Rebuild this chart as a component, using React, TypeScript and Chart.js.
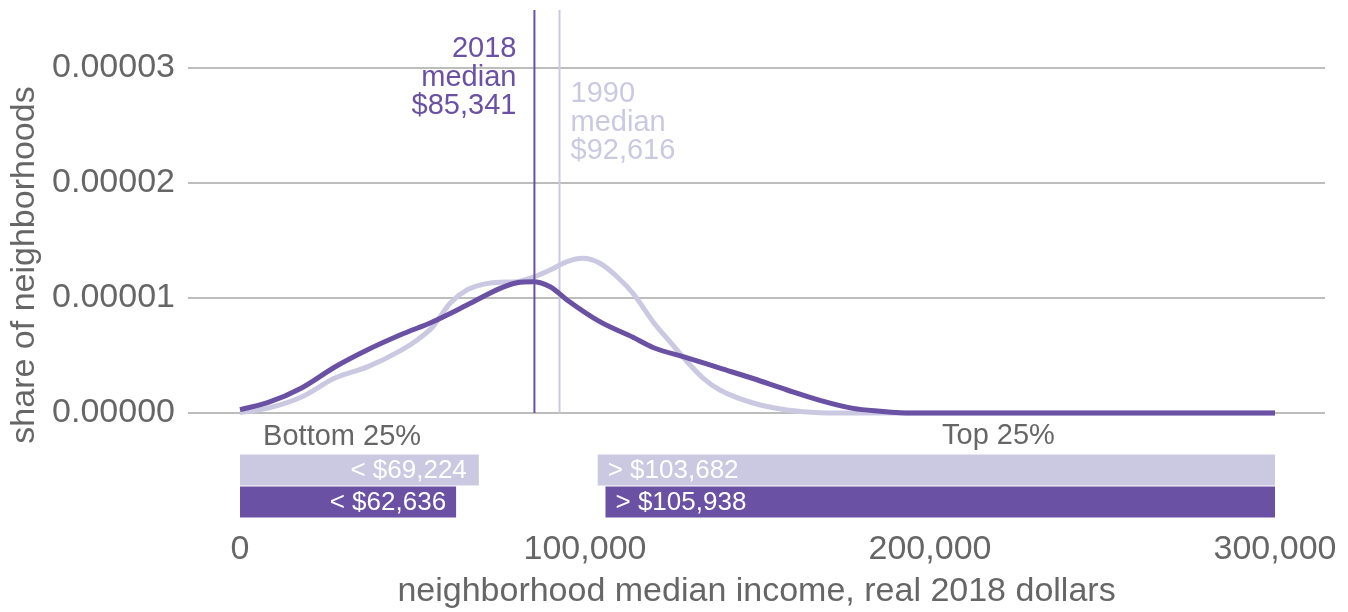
import React, { useEffect, useRef } from "react";
import { Chart, registerables } from "chart.js";

Chart.register(...registerables);

// ---- data ----
const incomeDark = [0, 8000, 18000, 27500, 37000, 46400, 55900, 65800, 75400, 80300, 84900, 89900, 94800, 104300, 113900, 119700, 129600, 139100, 148700, 158600, 168100, 177700, 185500, 191300, 200000, 250000, 300000];
const densityDark = [0.03e-5, 0.09e-5, 0.22e-5, 0.40e-5, 0.55e-5, 0.678e-5, 0.794e-5, 0.939e-5, 1.084e-5, 1.133e-5, 1.142e-5, 1.098e-5, 0.983e-5, 0.794e-5, 0.658e-5, 0.57e-5, 0.48e-5, 0.39e-5, 0.30e-5, 0.20e-5, 0.11e-5, 0.04e-5, 0.015e-5, 0.003e-5, 0, 0, 0];

const incomeLight = [0, 8100, 18000, 27500, 37100, 46400, 51600, 55900, 60900, 65800, 70400, 75400, 80300, 84900, 89900, 94800, 99400, 104300, 109300, 113900, 119700, 124600, 129600, 134200, 139100, 148700, 158600, 168100, 180000, 300000];
const densityLight = [0.005e-5, 0.043e-5, 0.142e-5, 0.304e-5, 0.403e-5, 0.54e-5, 0.64e-5, 0.75e-5, 0.954e-5, 1.07e-5, 1.119e-5, 1.137e-5, 1.142e-5, 1.18e-5, 1.243e-5, 1.316e-5, 1.345e-5, 1.302e-5, 1.185e-5, 1.041e-5, 0.794e-5, 0.62e-5, 0.446e-5, 0.304e-5, 0.2e-5, 0.087e-5, 0.026e-5, 0.003e-5, 0, 0];

const median2018 = 85341;
const median1990 = 92616;

const bottomQuartile1990 = 69224;
const bottomQuartile2018 = 62636;
const topQuartile1990 = 103682;
const topQuartile2018 = 105938;
const incomeMin = 0;
const incomeMax = 300000;

const xTickValues = [0, 100000, 200000, 300000];
const yTickValues = [0, 0.00001, 0.00002, 0.00003];

const label2018 = ["2018", "median", "$85,341"];
const label1990 = ["1990", "median", "$92,616"];
const bottomLabel = "Bottom 25%";
const topLabel = "Top 25%";
const barLabelBottom1990 = "< $69,224";
const barLabelBottom2018 = "< $62,636";
const barLabelTop1990 = "> $103,682";
const barLabelTop2018 = "> $105,938";

// ---- style / layout ----
const DARK = "#6a51a3";
const LIGHT = "#cbc9e2";
const GRAY = "#666666";
const FONT = "'Liberation Sans', Arial, sans-serif";

const X_MIN = -15072;
const X_MAX = 314493;
const Y_MIN = -0.9304e-5;
const Y_MAX = 3.5043e-5;
const BAR_Y_1990 = -0.4957e-5;
const BAR_Y_2018 = -0.774e-5;
const BAR_THICK = 31;

const pts = (xs: number[], ys: number[]) => xs.map((x, i) => ({ x, y: ys[i] }));

export default function App() {
  const ref = useRef<HTMLCanvasElement>(null);

  useEffect(() => {
    document.body.style.margin = "0";
    const textPlugin = {
      id: "annotations",
      afterDatasetsDraw(chart: any) {
        const { ctx, scales } = chart;
        const xs = scales.x;
        const ys = scales.y;
        ctx.save();
        // median labels
        ctx.font = `29px ${FONT}`;
        ctx.textBaseline = "alphabetic";
        ctx.fillStyle = DARK;
        ctx.textAlign = "right";
        const dx = xs.getPixelForValue(median2018) - 18;
        const dy = ys.getPixelForValue(3.0957e-5);
        label2018.forEach((t, i) => ctx.fillText(t, dx, dy + i * 28.7));
        ctx.fillStyle = LIGHT;
        ctx.textAlign = "left";
        const lx = xs.getPixelForValue(median1990) + 11;
        const ly = ys.getPixelForValue(2.7043e-5);
        label1990.forEach((t, i) => ctx.fillText(t, lx, ly + i * 28.7));

        // quartile headers
        ctx.fillStyle = GRAY;
        ctx.textBaseline = "middle";
        ctx.textAlign = "left";
        ctx.fillText(bottomLabel, xs.getPixelForValue(6700), ys.getPixelForValue(-0.209e-5));
        ctx.textAlign = "right";
        ctx.fillText(topLabel, xs.getPixelForValue(236200), ys.getPixelForValue(-0.2e-5));

        // bar labels
        ctx.font = `26px ${FONT}`;
        ctx.fillStyle = "#ffffff";
        ctx.textAlign = "right";
        ctx.fillText(barLabelBottom1990, xs.getPixelForValue(bottomQuartile1990) - 12, ys.getPixelForValue(BAR_Y_1990) + 1);
        ctx.fillText(barLabelBottom2018, xs.getPixelForValue(bottomQuartile2018) - 10, ys.getPixelForValue(BAR_Y_2018) + 1);
        ctx.textAlign = "left";
        ctx.fillText(barLabelTop1990, xs.getPixelForValue(topQuartile1990) + 10, ys.getPixelForValue(BAR_Y_1990) + 1);
        ctx.fillText(barLabelTop2018, xs.getPixelForValue(topQuartile2018) + 10, ys.getPixelForValue(BAR_Y_2018) + 1);
        ctx.restore();
      },
    };

    const chart = new Chart(ref.current!, {
      type: "line",
      data: {
        datasets: [
          {
            data: pts(incomeDark, densityDark),
            borderColor: DARK,
            borderWidth: 5,
            pointRadius: 0,
            cubicInterpolationMode: "monotone",
          },
          {
            data: [{ x: median2018, y: 0 }, { x: median2018, y: Y_MAX }],
            borderColor: DARK,
            borderWidth: 2,
            pointRadius: 0,
          },
          {
            data: [{ x: median1990, y: 0 }, { x: median1990, y: Y_MAX }],
            borderColor: LIGHT,
            borderWidth: 2,
            pointRadius: 0,
          },
          {
            data: pts(incomeLight, densityLight),
            borderColor: LIGHT,
            borderWidth: 5,
            pointRadius: 0,
            cubicInterpolationMode: "monotone",
          },
          {
            data: [{ x: incomeMin, y: BAR_Y_1990 }, { x: bottomQuartile1990, y: BAR_Y_1990 }],
            borderColor: LIGHT,
            borderWidth: BAR_THICK,
            borderCapStyle: "butt",
            pointRadius: 0,
          },
          {
            data: [{ x: topQuartile1990, y: BAR_Y_1990 }, { x: incomeMax, y: BAR_Y_1990 }],
            borderColor: LIGHT,
            borderWidth: BAR_THICK,
            borderCapStyle: "butt",
            pointRadius: 0,
          },
          {
            data: [{ x: incomeMin, y: BAR_Y_2018 }, { x: bottomQuartile2018, y: BAR_Y_2018 }],
            borderColor: DARK,
            borderWidth: BAR_THICK,
            borderCapStyle: "butt",
            pointRadius: 0,
          },
          {
            data: [{ x: topQuartile2018, y: BAR_Y_2018 }, { x: incomeMax, y: BAR_Y_2018 }],
            borderColor: DARK,
            borderWidth: BAR_THICK,
            borderCapStyle: "butt",
            pointRadius: 0,
          },
        ] as any,
      },
      options: {
        responsive: false,
        animation: false,
        events: [],
        layout: { padding: { top: 10, right: 23, bottom: 0, left: 0 } },
        plugins: { legend: { display: false }, tooltip: { enabled: false } },
        scales: {
          x: {
            type: "linear",
            min: X_MIN,
            max: X_MAX,
            afterBuildTicks: (axis: any) => {
              axis.ticks = xTickValues.map((v) => ({ value: v }));
            },
            afterFit: (axis: any) => {
              axis.height = 92;
              axis.paddingLeft = 0;
              axis.paddingRight = 0;
            },
            ticks: {
              color: GRAY,
              font: { family: FONT, size: 34 },
              padding: 1,
              maxRotation: 0,
              autoSkip: false,
              callback: (v: any) => Number(v).toLocaleString("en-US"),
            },
            grid: { display: false },
            border: { display: false },
            title: {
              display: true,
              text: "neighborhood median income, real 2018 dollars",
              color: GRAY,
              font: { family: FONT, size: 34 },
              padding: { top: 0, bottom: 0 },
            },
          },
          y: {
            type: "linear",
            min: Y_MIN,
            max: Y_MAX,
            afterBuildTicks: (axis: any) => {
              axis.ticks = yTickValues.map((v) => ({ value: v }));
            },
            afterFit: (axis: any) => {
              axis.width = 188;
              axis.paddingTop = 0;
              axis.paddingBottom = 0;
            },
            ticks: {
              color: GRAY,
              font: { family: FONT, size: 34 },
              padding: 13,
              autoSkip: false,
              callback: (v: any) => Number(v).toFixed(5),
            },
            grid: { color: "#bdbdbd", lineWidth: 2, drawTicks: false },
            border: { display: false },
            title: {
              display: true,
              text: "share of neighborhoods",
              color: GRAY,
              font: { family: FONT, size: 34 },
              padding: { top: 4, bottom: 4 },
            },
          },
        },
      },
      plugins: [textPlugin],
    } as any);
    return () => chart.destroy();
  }, []);

  return (
    <div style={{ width: 1348, height: 612 }}>
      <canvas ref={ref} width={1348} height={612} />
    </div>
  );
}
